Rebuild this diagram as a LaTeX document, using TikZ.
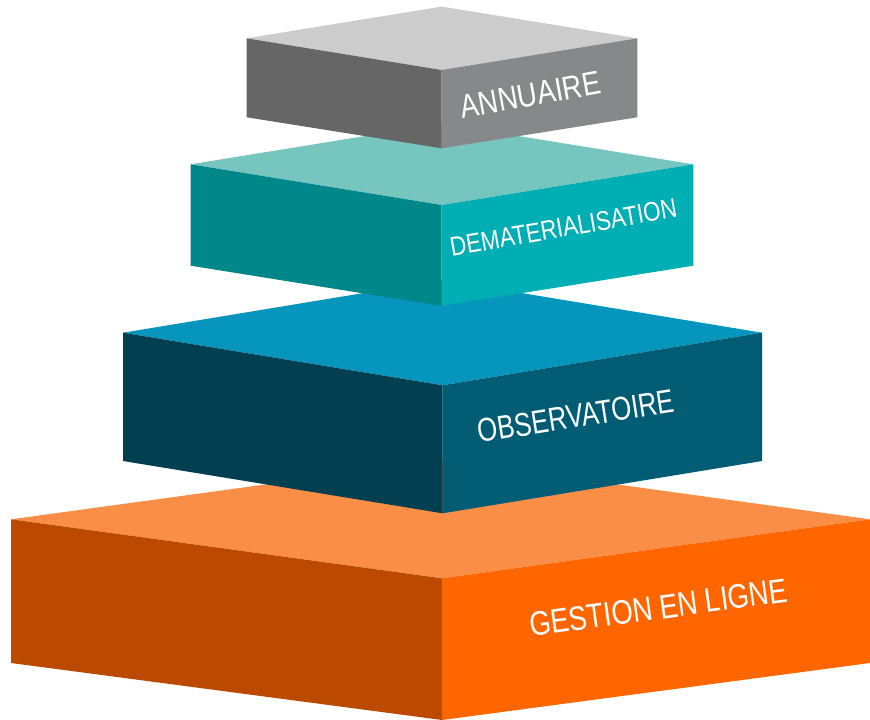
\documentclass[tikz,border=0pt]{standalone}
\usepackage{graphicx}
\usepackage{fontspec}
\newfontfamily\tierfont{Liberation Sans}
\definecolor{annTop}{HTML}{CCCCCC}
\definecolor{annLeft}{HTML}{666666}
\definecolor{annRight}{HTML}{87888A}
\definecolor{demTop}{HTML}{76C5BF}
\definecolor{demLeft}{HTML}{00878A}
\definecolor{demRight}{HTML}{00AEB3}
\definecolor{obsTop}{HTML}{0595BD}
\definecolor{obsLeft}{HTML}{023F50}
\definecolor{obsRight}{HTML}{015C74}
\definecolor{gesTop}{HTML}{FA8E47}
\definecolor{gesLeft}{HTML}{BB4A00}
\definecolor{gesRight}{HTML}{FF6600}

\begin{document}
\begin{tikzpicture}[x=1pt,y=-1pt,
        tier label/.style={font=\tierfont\fontsize{#1}{#1}\selectfont,text=white,anchor=base,inner sep=0pt}]
    \useasboundingbox (0,0) rectangle (870,720);

    \fill[gesTop] (442,460.3) -- (870,519.3) -- (442,578.3) -- (11,519.3) -- cycle;
    \fill[gesLeft] (11,519.3) -- (442,578.3) -- (442,720) -- (11,663) -- cycle;
    \fill[gesRight] (442,578.3) -- (870,519.3) -- (870,663) -- (442,720) -- cycle;

    \fill[obsTop] (442.5,280) -- (762,332.7) -- (442.5,385.3) -- (123,332.7) -- cycle;
    \fill[obsLeft] (123,332.7) -- (442.5,385.3) -- (442.5,513.3) -- (123,461) -- cycle;
    \fill[obsRight] (442.5,385.3) -- (762,332.7) -- (762,461) -- (442.5,513.3) -- cycle;

    \fill[demTop] (441.7,123.6) -- (693.3,164.3) -- (441.7,205) -- (190.7,164.3) -- cycle;
    \fill[demLeft] (190.7,164.3) -- (441.7,205) -- (441.7,306) -- (190.7,265.7) -- cycle;
    \fill[demRight] (441.7,205) -- (693.3,164.3) -- (693.3,265.7) -- (441.7,306) -- cycle;

    \fill[annTop] (441.7,6.6) -- (637.3,38.3) -- (441.7,70) -- (246.7,38.3) -- cycle;
    \fill[annLeft] (246.7,38.3) -- (441.7,70) -- (441.7,148.3) -- (246.7,117.3) -- cycle;
    \fill[annRight] (441.7,70) -- (637.3,38.3) -- (637.3,117.3) -- (441.7,148.3) -- cycle;

    \node[tier label=33,rotate=10.2] (annuaire) at (532.5,106.2) {\scalebox{0.83}[1]{ANNUAIRE}};
    \node[tier label=27,rotate=9.9] (dematerialisation) at (565,236.7) {\scalebox{0.83}[1]{DEMATERIALISATION}};
    \node[tier label=33,rotate=8.9] (observatoire) at (577.5,427.5) {\scalebox{0.78}[1]{OBSERVATOIRE}};
    \node[tier label=34,rotate=7.8] (gestion) at (660,619.2) {\scalebox{0.81}[1]{GESTION EN LIGNE}};
\end{tikzpicture}
\end{document}
